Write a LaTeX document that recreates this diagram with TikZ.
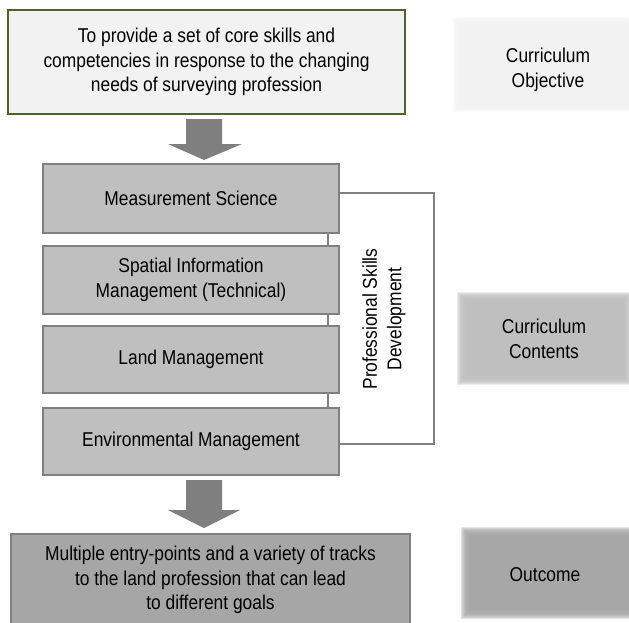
\documentclass[tikz,border=0pt]{standalone}
\usepackage{fontspec}
\setmainfont{Liberation Sans}[FakeStretch=0.87]
\usetikzlibrary{calc}
\definecolor{olive}{HTML}{4F6228}
\definecolor{paleg}{HTML}{F2F2F2}
\definecolor{midg}{HTML}{BFBFBF}
\definecolor{darkg}{HTML}{A6A6A6}
\definecolor{edgeg}{HTML}{808080}
\definecolor{arrowg}{HTML}{7F7F7F}
\tikzset{
  txt/.style={font=\fontsize{20}{24.5}\selectfont, align=center, text=black},
  goalbox/.style={txt, draw=olive, line width=1.6pt, fill=paleg, minimum width=397pt, minimum height=104pt},
  areabox/.style={txt, draw=edgeg, line width=1.8pt, fill=midg, minimum width=296pt},
  resultbox/.style={txt, draw=edgeg, line width=1.4pt, fill=darkg, minimum width=399pt, minimum height=92pt},
  link/.style={draw=edgeg, line width=1.5pt},
  blockarrow/.style={fill=arrowg, draw=none},
}
% soft-edged panel: stacked translucent rectangles
\newcommand{\softpanel}[5]{%
  \foreach \k in {0,...,9}{%
    \fill[#5, fill opacity=0.3]
      ({#1-5+\k},{#2-5+\k}) rectangle ({#3+5-\k},{#4+5-\k});
  }%
}
\begin{document}
\begin{tikzpicture}[x=1pt, y=-1pt]
\useasboundingbox (0,0) rectangle (629,622);
\clip (0,0) rectangle (629,622);
\fill[white] (0,0) rectangle (629,622);

% side panels
\softpanel{458}{22}{627}{107}{paleg}
\softpanel{462}{297}{627}{380}{midg}
\softpanel{466}{532}{633}{614}{darkg}
\node[txt] (lobj) at (548,70) {Curriculum\\Objective};
\node[txt] (lcon) at (544,339) {Curriculum\\Contents};
\node[txt] (lout) at (545,575) {Outcome};

% spine joining the content areas
\coordinate (spt) at (328,233);
\coordinate (spb) at (328,407);
\draw[link] (spt) -- (spb);

% goal
\node[goalbox] (goal) at (206.5,62) {To provide a set of core skills and\\competencies in response to the changing\\needs of surveying profession};

% content areas
\node[areabox, minimum height=69pt] (ms) at (191,198.5) {Measurement Science};
\node[areabox, minimum height=68pt] (sim) at (191,280) {Spatial Information\\Management (Technical)};
\node[areabox, minimum height=67pt] (lm) at (191,359.5) {Land Management};
\node[areabox, minimum height=67pt] (em) at (191,441.5) {Environmental Management};

% professional skills bracket
\coordinate (bt) at (434,193);
\coordinate (bb) at (434,444);
\draw[link] (ms.east |- bt) -- (bt) -- (bb) -- (em.east |- bb);
\node[txt, rotate=90] (psd) at (384,319) {Professional Skills\\Development};

% outcome
\node[resultbox] (res) at (210.5,580) {Multiple entry-points and a variety of tracks\\to the land profession that can lead\\to different goals};

% block arrows
\fill[blockarrow] (186,119) -- (222,119) -- (222,144) -- (242,144) -- (204,160) -- (168,144) -- (186,144) -- cycle;
\fill[blockarrow] (186,480) -- (222,480) -- (222,510) -- (240,510) -- (204,528) -- (168,510) -- (186,510) -- cycle;
\end{tikzpicture}
\end{document}
